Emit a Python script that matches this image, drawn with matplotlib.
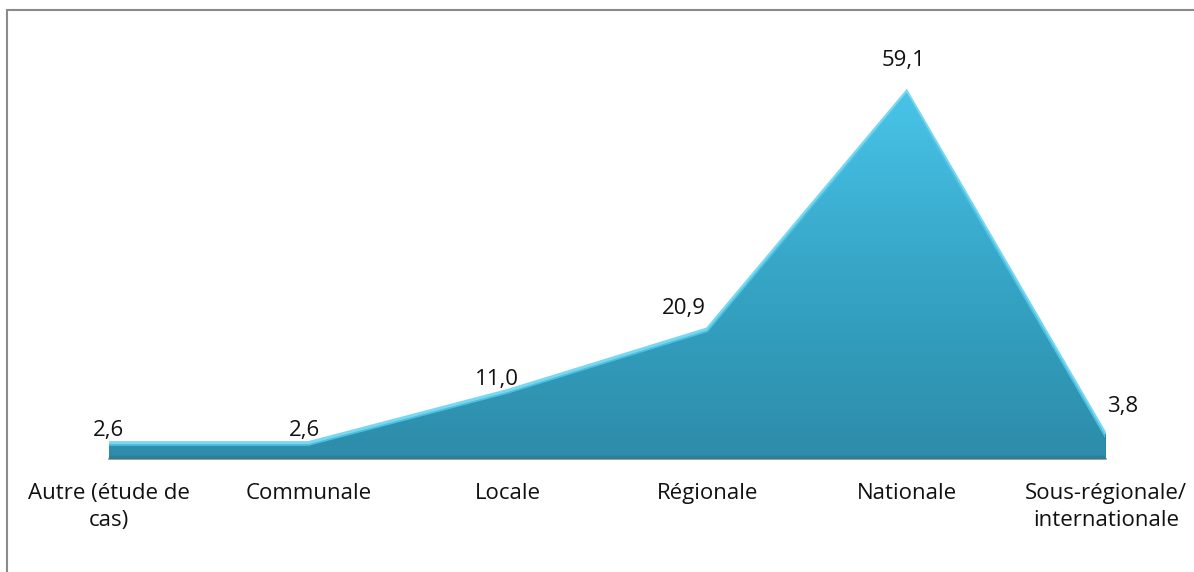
import numpy as np
import matplotlib
matplotlib.use("Agg")
import matplotlib.pyplot as plt
from matplotlib.colors import LinearSegmentedColormap
from matplotlib.patches import Polygon, Rectangle

# valeurs (%)
categories = ["Autre (étude de\ncas)", "Communale", "Locale", "Régionale",
              "Nationale", "Sous-régionale/\ninternationale"]
values = [2.6, 2.6, 11.0, 20.9, 59.1, 3.8]
value_labels = ["2,6", "2,6", "11,0", "20,9", "59,1", "3,8"]

# décalage du centre des étiquettes (pixels)
label_offsets = [(-1, 12), (-4, 12), (-11, 11), (-23, 21), (-3, 31), (17, 29)]

plt.rcParams['font.family'] = ['Open Sans', 'DejaVu Sans']

fig = plt.figure(figsize=(11.94, 5.72), dpi=100)
W, H = 1194, 572
ax = fig.add_axes([109 / W, 113 / H, (1106 - 109) / W, 435 / H])

x = np.arange(len(values))
ax.set_xlim(0, len(values) - 1)
ax.set_ylim(0, 70)

# remplissage en dégradé, découpé par le polygone de l'aire
verts = [(0, 0)] + list(zip(x, values)) + [(x[-1], 0)]
poly = Polygon(verts, closed=True, facecolor="none", edgecolor="none")
ax.add_patch(poly)
cmap = LinearSegmentedColormap.from_list("teal", ["#2D8CA9", "#36A5C6", "#48C4E8"])
grad = np.linspace(0, 1, 256).reshape(-1, 1)
im = ax.imshow(grad, cmap=cmap, origin="lower", aspect="auto",
               extent=[0, x[-1], 0, max(values)], zorder=2)
im.set_clip_path(poly)

# effet biseau : reflet clair sur le bord supérieur, ombre en bas
ax.plot(x, values, color="#78D8F2", lw=2.5, zorder=3, solid_joinstyle="miter")
ax.plot(x, np.array(values) - 0.35, color="#4CC0E0", lw=1.2, zorder=3)
ax.plot([0, x[-1]], [0.25, 0.25], color="#2A7F99", lw=2.5, zorder=3)
ax.plot([x[-1], x[-1]], [0, values[-1]], color="#2B86A2", lw=2, zorder=3)

for xi, yi, lab, (dx, dy) in zip(x, values, value_labels, label_offsets):
    ax.annotate(lab, (xi, yi), xytext=(dx, dy), textcoords="offset pixels",
                ha="center", va="center", fontsize=16, color="#111111")

ax.set_xticks(x)
ax.set_xticklabels(categories, fontsize=16, color="#111111", linespacing=1.38)
ax.tick_params(axis="x", length=0, pad=17.5)
ax.set_yticks([])
for side in ["top", "right", "left"]:
    ax.spines[side].set_visible(False)
ax.spines["bottom"].set_color("#8C8C8C")
ax.spines["bottom"].set_linewidth(1.2)
ax.spines["bottom"].set_zorder(1)

# cadre du graphique
fig.patches.append(Rectangle((7 / W, -0.05), 1.1, 1.05 - 10 / H,
                             transform=fig.transFigure, fill=False,
                             edgecolor="#8A8A8A", lw=1.5))

fig.savefig("out.png", dpi=100)
